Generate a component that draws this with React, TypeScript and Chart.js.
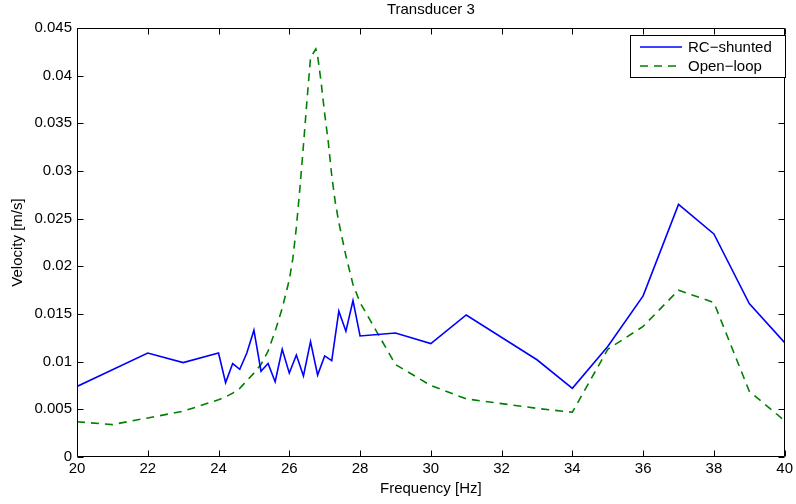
import React, { useEffect, useRef } from "react";
import { Chart, registerables } from "chart.js";

Chart.register(...registerables);

const chartTitle = "Transducer 3";
const xAxisLabel = "Frequency [Hz]";
const yAxisLabel = "Velocity [m/s]";
const seriesNames = ["RC\u2212shunted", "Open\u2212loop"];

const xTicks = [20, 22, 24, 26, 28, 30, 32, 34, 36, 38, 40];
const yTicks = [0, 0.005, 0.01, 0.015, 0.02, 0.025, 0.03, 0.035, 0.04, 0.045];

const rcFreq = [20, 22, 23, 24, 24.2, 24.4, 24.6, 24.8, 25, 25.2, 25.4, 25.6, 25.8, 26, 26.2, 26.4, 26.6, 26.8, 27, 27.2, 27.4, 27.6, 27.8, 28, 29, 30, 31, 33, 34, 35, 36, 37, 38, 39, 40];
const rcVel = [0.0074, 0.0109, 0.0099, 0.0109, 0.0078, 0.0098, 0.0092, 0.0109, 0.0133, 0.009, 0.0098, 0.0079, 0.0113, 0.0088, 0.0107, 0.0085, 0.0121, 0.0086, 0.0106, 0.0101, 0.0153, 0.0132, 0.0164, 0.0127, 0.013, 0.0119, 0.0149, 0.0102, 0.0072, 0.0116, 0.0169, 0.0265, 0.0234, 0.0161, 0.012];

const olFreq = [20, 21, 22, 23, 24, 24.2, 24.4, 24.6, 24.8, 25, 25.2, 25.4, 25.6, 25.8, 26, 26.1, 26.2, 26.3, 26.4, 26.5, 26.6, 26.75, 26.8, 26.9, 27, 27.1, 27.2, 27.3, 27.4, 27.6, 27.8, 28, 28.2, 28.4, 28.6, 29, 30, 31, 33, 34, 35, 36, 37, 38, 39, 40];
const olVel = [0.0037, 0.0034, 0.0041, 0.0048, 0.006, 0.0063, 0.0067, 0.0072, 0.008, 0.0088, 0.0097, 0.0111, 0.0132, 0.0156, 0.0186, 0.0208, 0.0241, 0.0282, 0.0327, 0.0374, 0.0419, 0.0428, 0.0421, 0.0393, 0.036, 0.0331, 0.0295, 0.0267, 0.0246, 0.0211, 0.0181, 0.0162, 0.0149, 0.0136, 0.0123, 0.0097, 0.0075, 0.0061, 0.0051, 0.0047, 0.0113, 0.0137, 0.0175, 0.0162, 0.0069, 0.0038];

const FONT = "'Liberation Sans', Arial, Helvetica, sans-serif";
const FS = 15;
const BLUE = "#0000ff";
const GREEN = "#008000";
const DASH = [8, 6];
const LW = 1.6;

const framePlugin = {
  id: "matlabFrame",
  afterDatasetsDraw(chart: any) {
    const ctx = chart.ctx;
    const { left, top, right, bottom } = chart.chartArea;
    const xs = chart.scales.x;
    const ys = chart.scales.y;
    ctx.save();
    ctx.strokeStyle = "#000";
    ctx.lineWidth = 1;
    const L = Math.round(left) + 0.5;
    const R = Math.round(right) - 0.5;
    const T = Math.round(top) + 0.5;
    const B = Math.round(bottom) - 0.5;
    ctx.beginPath();
    ctx.rect(L, T, R - L, B - T);
    ctx.stroke();
    const tl = 6;
    ctx.beginPath();
    xTicks.forEach((v) => {
      const px = Math.round(xs.getPixelForValue(v)) + 0.5;
      ctx.moveTo(px, B);
      ctx.lineTo(px, B - tl);
      ctx.moveTo(px, T);
      ctx.lineTo(px, T + tl);
    });
    yTicks.forEach((v) => {
      const py = Math.round(ys.getPixelForValue(v)) + 0.5;
      ctx.moveTo(L, py);
      ctx.lineTo(L + tl, py);
      ctx.moveTo(R, py);
      ctx.lineTo(R - tl, py);
    });
    ctx.stroke();

    // title
    ctx.fillStyle = "#000";
    ctx.font = `${FS}px ${FONT}`;
    ctx.textAlign = "center";
    ctx.textBaseline = "middle";
    ctx.fillText(chartTitle, (left + right) / 2, 10);

    // legend
    const bx0 = 630.5, by0 = 35.5, bw = 155, bh = 42;
    ctx.fillStyle = "#fff";
    ctx.fillRect(bx0, by0, bw, bh);
    ctx.strokeStyle = "#000";
    ctx.lineWidth = 1;
    ctx.strokeRect(bx0, by0, bw, bh);
    const rows = [
      { name: seriesNames[0], color: BLUE, dash: [] as number[], y: 47 },
      { name: seriesNames[1], color: GREEN, dash: DASH, y: 66 },
    ];
    rows.forEach((r) => {
      ctx.beginPath();
      ctx.strokeStyle = r.color;
      ctx.lineWidth = LW;
      ctx.setLineDash(r.dash);
      ctx.moveTo(640, r.y);
      ctx.lineTo(682, r.y);
      ctx.stroke();
      ctx.setLineDash([]);
      ctx.fillStyle = "#000";
      ctx.font = `${FS}px ${FONT}`;
      ctx.textAlign = "left";
      ctx.textBaseline = "middle";
      ctx.fillText(r.name, 688, r.y + 0.5);
    });
    ctx.restore();
  },
};

export default function App() {
  const ref = useRef<HTMLCanvasElement | null>(null);
  useEffect(() => {
    if (!ref.current) return;
    const chart = new Chart(ref.current, {
      type: "line",
      data: {
        datasets: [
          {
            label: seriesNames[0],
            data: rcFreq.map((f, i) => ({ x: f, y: rcVel[i] })),
            borderColor: BLUE,
            backgroundColor: BLUE,
            borderWidth: LW,
            pointRadius: 0,
            tension: 0,
            fill: false,
          },
          {
            label: seriesNames[1],
            data: olFreq.map((f, i) => ({ x: f, y: olVel[i] })),
            borderColor: GREEN,
            backgroundColor: GREEN,
            borderWidth: LW,
            borderDash: DASH,
            pointRadius: 0,
            tension: 0,
            fill: false,
          },
        ],
      },
      options: {
        animation: false,
        responsive: false,
        devicePixelRatio: 1,
        layout: { padding: { top: 28, right: 8, left: 0, bottom: 0 } },
        plugins: {
          legend: { display: false },
          title: { display: false },
          tooltip: { enabled: false },
        },
        scales: {
          x: {
            type: "linear",
            min: 20,
            max: 40,
            afterBuildTicks: (s: any) => {
              s.ticks = xTicks.map((v) => ({ value: v }));
            },
            afterFit: (s: any) => {
              s.height = 47;
            },
            grid: { display: false, drawTicks: false, tickLength: 0 },
            border: { display: false },
            ticks: {
              color: "#000",
              font: { family: FONT, size: FS },
              padding: 3,
              maxRotation: 0,
              autoSkip: false,
              callback: (v: any) => String(v),
            },
            title: {
              display: true,
              text: xAxisLabel,
              color: "#000",
              font: { family: FONT, size: FS },
              padding: { top: 0, bottom: 6 },
            },
          },
          y: {
            type: "linear",
            min: 0,
            max: 0.045,
            afterBuildTicks: (s: any) => {
              s.ticks = yTicks.map((v) => ({ value: v }));
            },
            afterFit: (s: any) => {
              s.width = 77;
            },
            grid: { display: false, drawTicks: false, tickLength: 0 },
            border: { display: false },
            ticks: {
              color: "#000",
              font: { family: FONT, size: FS },
              padding: 5,
              autoSkip: false,
              callback: (v: any) => String(parseFloat(Number(v).toFixed(3))),
            },
            title: {
              display: true,
              text: yAxisLabel,
              color: "#000",
              font: { family: FONT, size: FS },
              padding: { top: 9, bottom: 0 },
            },
          },
        },
      },
      plugins: [framePlugin],
    });
    return () => chart.destroy();
  }, []);
  return (
    <div style={{ position: "absolute", left: 0, top: 0, width: 796, height: 504, background: "#fff" }}>
      <canvas ref={ref} width={796} height={504} />
    </div>
  );
}
